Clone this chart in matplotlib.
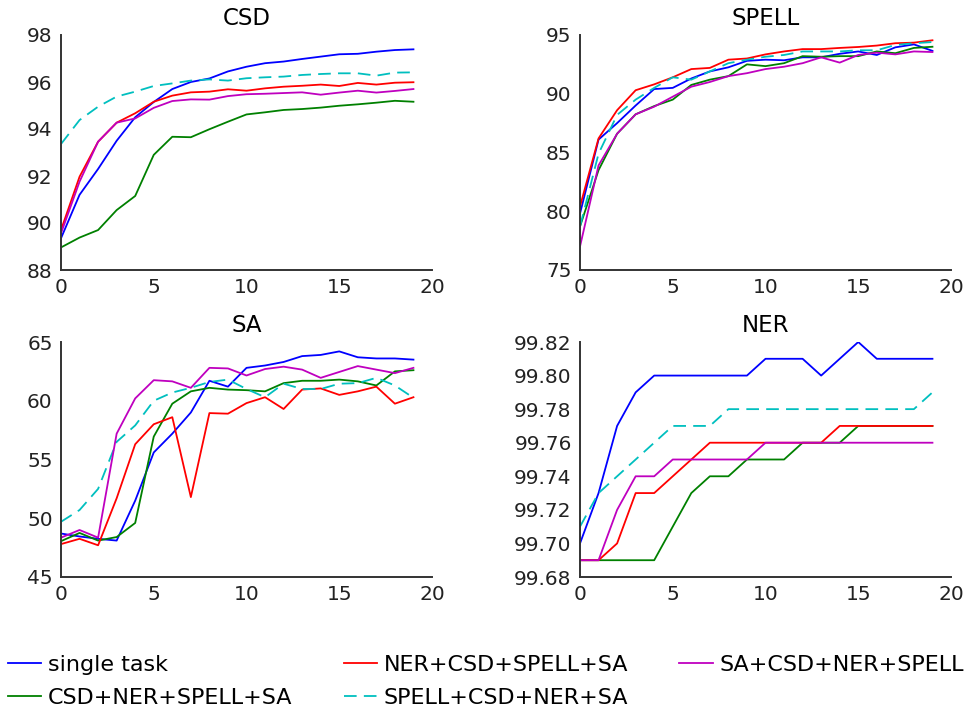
import numpy as np
import matplotlib
matplotlib.use('Agg')
import matplotlib.pyplot as plt
from matplotlib.ticker import FormatStrFormatter, MultipleLocator

epochs = np.arange(20)

labels = ['single task', 'CSD+NER+SPELL+SA', 'NER+CSD+SPELL+SA',
          'SPELL+CSD+NER+SA', 'SA+CSD+NER+SPELL']

# CSD
csd_single = [89.35, 91.2, 92.3, 93.5, 94.5, 95.15, 95.7, 96.0, 96.15, 96.45,
              96.65, 96.8, 96.87, 96.98, 97.08, 97.18, 97.2, 97.29, 97.36, 97.39]
csd_csd = [88.96, 89.38, 89.7, 90.55, 91.15, 92.9, 93.67, 93.65, 93.99, 94.31,
           94.62, 94.71, 94.81, 94.85, 94.91, 94.99, 95.05, 95.12, 95.2, 95.16]
csd_ner = [89.7, 91.97, 93.46, 94.27, 94.67, 95.16, 95.42, 95.56, 95.59, 95.69,
           95.63, 95.73, 95.8, 95.84, 95.89, 95.83, 95.96, 95.89, 95.97, 95.99]
csd_spell = [93.36, 94.38, 94.95, 95.38, 95.59, 95.83, 95.94, 96.06, 96.11, 96.06,
             96.16, 96.2, 96.23, 96.3, 96.34, 96.37, 96.37, 96.27, 96.4, 96.41]
csd_sa = [89.56, 91.76, 93.46, 94.27, 94.45, 94.9, 95.19, 95.26, 95.25, 95.4,
          95.48, 95.5, 95.53, 95.56, 95.46, 95.55, 95.63, 95.55, 95.62, 95.7]

# SPELL
spell_single = [79.8, 86.1, 87.5, 89.0, 90.4, 90.5, 91.3, 91.9, 92.25, 92.8,
                92.9, 92.85, 93.1, 93.1, 93.4, 93.6, 93.3, 93.95, 94.2, 93.65]
spell_csd = [78.7, 83.5, 86.6, 88.25, 88.95, 89.5, 90.75, 91.2, 91.5, 92.5,
             92.35, 92.6, 93.2, 93.15, 93.2, 93.2, 93.6, 93.45, 93.9, 94.0]
spell_ner = [80.4, 86.2, 88.6, 90.3, 90.8, 91.4, 92.1, 92.2, 92.9, 93.0,
             93.35, 93.6, 93.8, 93.8, 93.9, 93.98, 94.1, 94.3, 94.35, 94.55]
spell_spell = [78.7, 84.9, 88.2, 89.5, 90.5, 91.4, 91.2, 91.9, 92.6, 92.9,
               93.15, 93.3, 93.6, 93.6, 93.6, 93.7, 93.7, 94.15, 94.3, 94.4]
spell_sa = [77.0, 83.9, 86.6, 88.25, 88.9, 89.75, 90.6, 91.0, 91.5, 91.75,
            92.1, 92.3, 92.6, 93.1, 92.65, 93.3, 93.5, 93.35, 93.6, 93.55]

# SA
sa_single = [48.7, 48.45, 48.25, 48.1, 51.5, 55.6, 57.2, 59.0, 61.7, 61.2,
             62.8, 63.0, 63.3, 63.8, 63.9, 64.2, 63.7, 63.6, 63.6, 63.5]
sa_csd = [48.05, 48.75, 48.1, 48.4, 49.6, 56.95, 59.75, 60.8, 61.1, 60.95,
          60.9, 60.8, 61.5, 61.7, 61.7, 61.8, 61.65, 61.3, 62.5, 62.6]
sa_ner = [47.8, 48.25, 47.7, 51.7, 56.3, 58.0, 58.6, 51.8, 58.95, 58.9,
          59.8, 60.3, 59.3, 60.95, 61.05, 60.5, 60.8, 61.2, 59.75, 60.3]
sa_spell = [49.7, 50.7, 52.5, 56.5, 57.9, 60.0, 60.7, 61.1, 61.6, 61.8,
            61.0, 60.3, 61.45, 61.0, 61.0, 61.45, 61.5, 61.95, 61.3, 60.25]
sa_sa = [48.35, 49.0, 48.35, 57.2, 60.2, 61.75, 61.65, 61.1, 62.8, 62.75,
         62.15, 62.7, 62.9, 62.65, 61.95, 62.45, 62.95, 62.65, 62.35, 62.8]

# NER
ner_single = [99.70, 99.73, 99.77, 99.79, 99.80, 99.80, 99.80, 99.80, 99.80, 99.80,
              99.81, 99.81, 99.81, 99.80, 99.81, 99.82, 99.81, 99.81, 99.81, 99.81]
ner_csd = [99.69, 99.69, 99.69, 99.69, 99.69, 99.71, 99.73, 99.74, 99.74, 99.75,
           99.75, 99.75, 99.76, 99.76, 99.76, 99.77, 99.77, 99.77, 99.77, 99.77]
ner_ner = [99.69, 99.69, 99.70, 99.73, 99.73, 99.74, 99.75, 99.76, 99.76, 99.76,
           99.76, 99.76, 99.76, 99.76, 99.77, 99.77, 99.77, 99.77, 99.77, 99.77]
ner_spell = [99.71, 99.73, 99.74, 99.75, 99.76, 99.77, 99.77, 99.77, 99.78, 99.78,
             99.78, 99.78, 99.78, 99.78, 99.78, 99.78, 99.78, 99.78, 99.78, 99.79]
ner_sa = [99.69, 99.69, 99.72, 99.74, 99.74, 99.75, 99.75, 99.75, 99.75, 99.75,
          99.76, 99.76, 99.76, 99.76, 99.76, 99.76, 99.76, 99.76, 99.76, 99.76]

colors = ['#0000ff', '#008000', '#ff0000', '#00bfbf', '#bf00bf']

panels = [
    ('CSD', [csd_single, csd_csd, csd_ner, csd_spell, csd_sa], (88, 98), 2, '%d'),
    ('SPELL', [spell_single, spell_csd, spell_ner, spell_spell, spell_sa], (75, 95), 5, '%d'),
    ('SA', [sa_single, sa_csd, sa_ner, sa_spell, sa_sa], (45, 65), 5, '%d'),
    ('NER', [ner_single, ner_csd, ner_ner, ner_spell, ner_sa], (99.68, 99.82), 0.02, '%.2f'),
]
boxes = [
    [61/978, 1-270/710, 371/978, 235/710],
    [580/978, 1-270/710, 371/978, 235/710],
    [61/978, 1-577/710, 371/978, 235/710],
    [580/978, 1-577/710, 371/978, 235/710],
]

fig = plt.figure(figsize=(9.78, 7.10), dpi=100)
handles = []
for (title, series, ylim, step, fmt), box in zip(panels, boxes):
    ax = fig.add_axes(box)
    handles = []
    for vals, c, lab in zip(series, colors, labels):
        if lab == 'SPELL+CSD+NER+SA':
            h, = ax.plot(epochs, vals, color=c, lw=1.3, dashes=(7, 4), label=lab)
        else:
            h, = ax.plot(epochs, vals, color=c, lw=1.3, label=lab)
        handles.append(h)
    ax.set_xlim(0, 20)
    ax.set_ylim(*ylim)
    ax.xaxis.set_major_locator(MultipleLocator(5))
    ax.yaxis.set_major_locator(MultipleLocator(step))
    ax.yaxis.set_major_formatter(FormatStrFormatter(fmt))
    ax.set_title(title, fontsize=16.5, pad=7)
    for s in ['top', 'right']:
        ax.spines[s].set_visible(False)
    for s in ['left', 'bottom']:
        ax.spines[s].set_linewidth(1.4)
        ax.spines[s].set_color('#333333')
    ax.tick_params(length=0, labelsize=14.5, pad=6, colors='#222222')

fig.legend(handles, labels, ncol=3, loc='center left',
           bbox_to_anchor=(8/978, 1-681.5/710), frameon=False, fontsize=16,
           handlelength=1.5, handletextpad=0.3, columnspacing=2.3,
           labelspacing=0.6, borderpad=0, borderaxespad=0)

fig.savefig('out.png', dpi=100)
